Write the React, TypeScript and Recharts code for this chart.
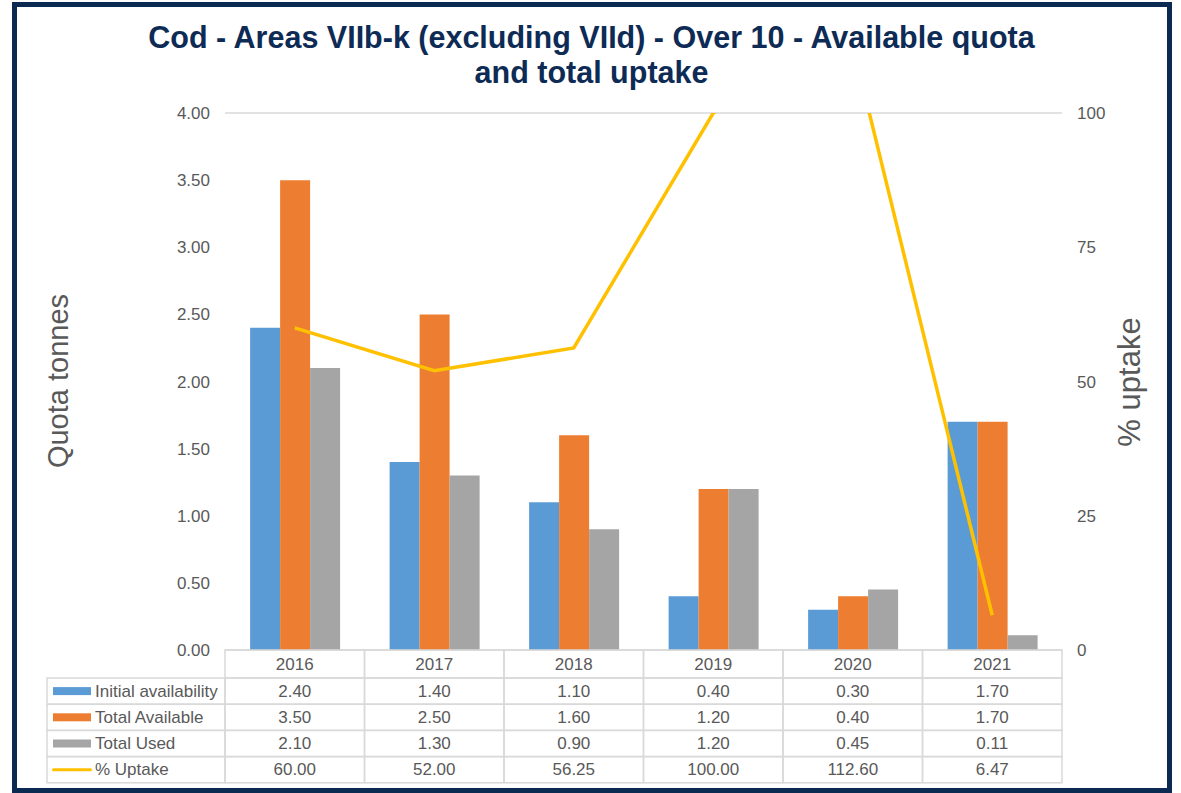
import React from "react"
import { Bar, CartesianGrid, ComposedChart, Line, XAxis, YAxis } from "recharts"

const years = ["2016", "2017", "2018", "2019", "2020", "2021"]
const initialAvailability = [2.4, 1.4, 1.1, 0.4, 0.3, 1.7]
const totalAvailable = [3.5, 2.5, 1.6, 1.2, 0.4, 1.7]
const totalUsed = [2.1, 1.3, 0.9, 1.2, 0.45, 0.11]
const uptake = [60.0, 52.0, 56.25, 100.0, 112.6, 6.47]

const leftTicks = [0, 0.5, 1, 1.5, 2, 2.5, 3, 3.5, 4]
const rightTicks = [0, 25, 50, 75, 100]

const data = years.map((year, i) => ({
    year,
    initial: initialAvailability[i],
    available: totalAvailable[i],
    used: totalUsed[i],
    uptake: uptake[i],
}))

const FONT = "'Liberation Sans', Arial, sans-serif"
const TEXT = "#595959"
const GRID = "#d9d9d9"
const NAVY = "#0b2a51"

const rows = [
    { label: "Initial availability", color: "#5B9BD5", key: "initial", line: false },
    { label: "Total Available", color: "#ED7D31", key: "available", line: false },
    { label: "Total Used", color: "#A5A5A5", key: "used", line: false },
    { label: "% Uptake", color: "#FFC000", key: "uptake", line: true },
]

const PLOT_LEFT = 225
const PLOT_RIGHT = 1062
const PLOT_TOP = 113
const PLOT_BOTTOM = 650
const COL_W = (PLOT_RIGHT - PLOT_LEFT) / years.length
const HEAD_H = 28
const ROW_H = 26.2
const LEGEND_LEFT = 47

function TableTick(props: any) {
    const { x, payload } = props
    const i = payload.index
    const d = data[i]
    const left = x - COL_W / 2
    const top = PLOT_BOTTOM
    return (
        <g fontFamily={FONT} fontSize={17} fill={TEXT}>
            <rect x={left} y={top} width={COL_W} height={HEAD_H} fill="none" stroke={GRID} strokeWidth={1.5} />
            <text x={x} y={top + HEAD_H / 2} textAnchor="middle" dominantBaseline="central" fill={TEXT}>
                {d.year}
            </text>
            {rows.map((r, j) => {
                const ry = top + HEAD_H + j * ROW_H
                return (
                    <g key={r.key}>
                        <rect x={left} y={ry} width={COL_W} height={ROW_H} fill="none" stroke={GRID} strokeWidth={1.5} />
                        <text x={x} y={ry + ROW_H / 2} textAnchor="middle" dominantBaseline="central" fill={TEXT}>
                            {(d as any)[r.key].toFixed(2)}
                        </text>
                        {i === 0 && (
                            <g>
                                <rect
                                    x={LEGEND_LEFT}
                                    y={ry}
                                    width={left - LEGEND_LEFT}
                                    height={ROW_H}
                                    fill="none"
                                    stroke={GRID}
                                    strokeWidth={1.5}
                                />
                                {r.line ? (
                                    <rect x={LEGEND_LEFT + 5} y={ry + ROW_H / 2 - 1.5} width={40} height={3} rx={1.5} fill={r.color} />
                                ) : (
                                    <rect x={LEGEND_LEFT + 6} y={ry + ROW_H / 2 - 4} width={38} height={8} fill={r.color} />
                                )}
                                <text x={LEGEND_LEFT + 48} y={ry + ROW_H / 2} dominantBaseline="central" fill={TEXT}>
                                    {r.label}
                                </text>
                            </g>
                        )}
                    </g>
                )
            })}
        </g>
    )
}

export default function App() {
    return (
        <div
            style={{
                position: "absolute",
                left: 0,
                top: 0,
                width: 1181,
                height: 793,
                background: "#fff",
                fontFamily: FONT,
                overflow: "hidden",
            }}
        >
            <div
                style={{
                    position: "absolute",
                    left: 12,
                    top: 2,
                    width: 1160,
                    height: 791,
                    boxSizing: "border-box",
                    border: `5px solid ${NAVY}`,
                }}
            />
            <div
                style={{
                    position: "absolute",
                    left: 0,
                    top: 20,
                    width: 1183,
                    textAlign: "center",
                    fontSize: 30.5,
                    lineHeight: "35px",
                    fontWeight: "bold",
                    color: "#0d2b55",
                }}
            >
                Cod - Areas VIIb-k (excluding VIId) - Over 10 - Available quota
                <br />
                and total uptake
            </div>
            <div
                style={{
                    position: "absolute",
                    left: 58,
                    top: 381,
                    transform: "translate(-50%, -50%) rotate(-90deg)",
                    fontSize: 29,
                    color: TEXT,
                    whiteSpace: "nowrap",
                }}
            >
                Quota tonnes
            </div>
            <div
                style={{
                    position: "absolute",
                    left: 1130,
                    top: 382,
                    transform: "translate(-50%, -50%) rotate(-90deg)",
                    fontSize: 31,
                    color: TEXT,
                    whiteSpace: "nowrap",
                }}
            >
                % uptake
            </div>
            <div style={{ position: "absolute", left: 0, top: 0 }}>
                <ComposedChart
                    width={1181}
                    height={793}
                    data={data}
                    barCategoryGap="18%"
                    barGap={0}
                    margin={{ top: PLOT_TOP, right: 1181 - PLOT_RIGHT - 60, bottom: 793 - PLOT_BOTTOM - 140, left: PLOT_LEFT - 80 }}
                >
                    <CartesianGrid vertical={false} stroke={GRID} strokeWidth={1.5} />
                    <XAxis
                        dataKey="year"
                        axisLine={false}
                        tickLine={false}
                        height={140}
                        interval={0}
                        tick={<TableTick />}
                    />
                    <YAxis
                        yAxisId="left"
                        width={80}
                        domain={[0, 4]}
                        ticks={leftTicks}
                        axisLine={false}
                        tickLine={false}
                        tickMargin={9}
                        tickFormatter={(v: number) => v.toFixed(2)}
                        tick={{ fill: TEXT, fontSize: 17, fontFamily: FONT }}
                    />
                    <YAxis
                        yAxisId="right"
                        orientation="right"
                        width={60}
                        domain={[0, 100]}
                        ticks={rightTicks}
                        allowDataOverflow
                        axisLine={false}
                        tickLine={false}
                        tickMargin={9}
                        tick={{ fill: TEXT, fontSize: 17, fontFamily: FONT, textAnchor: "start" }}
                    />
                    <Bar yAxisId="left" dataKey="initial" fill="#5B9BD5" isAnimationActive={false} />
                    <Bar yAxisId="left" dataKey="available" fill="#ED7D31" isAnimationActive={false} />
                    <Bar yAxisId="left" dataKey="used" fill="#A5A5A5" isAnimationActive={false} />
                    <Line
                        yAxisId="right"
                        type="linear"
                        dataKey="uptake"
                        stroke="#FFC000"
                        strokeWidth={3.5}
                        dot={false}
                        isAnimationActive={false}
                    />
                </ComposedChart>
            </div>
        </div>
    )
}
